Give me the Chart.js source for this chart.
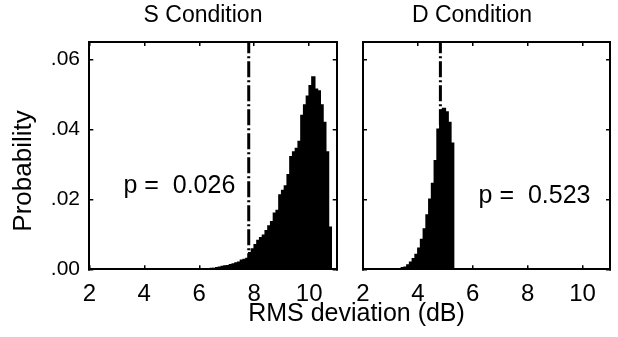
<!DOCTYPE html>
<html><head><meta charset="utf-8">
<script src="https://cdn.jsdelivr.net/npm/chart.js@4.4.1/dist/chart.umd.min.js"></script>
<style>
html,body{margin:0;padding:0;background:#fff;}
#wrap{position:relative;width:618px;height:337px;background:#fff;}
canvas{position:absolute;left:0;top:0;}
</style></head><body>
<div id="wrap"><canvas id="cS" width="618" height="337"></canvas><canvas id="cD" width="618" height="337"></canvas></div>
<script>
// ---- data ----
const panelTitles = ['S Condition', 'D Condition'];
const xTickValues = [2, 4, 6, 8, 10];
const yTickValues = [0, 0.02, 0.04, 0.06];
const yTickLabels = ['.00', '.02', '.04', '.06'];
const yAxisLabel = 'Probability';
const xAxisLabel = 'RMS deviation (dB)';
const pLabels = ['p =  0.026', 'p =  0.523'];

const binCentersS = [6.45, 6.55, 6.65, 6.75, 6.85, 6.95, 7.05, 7.15, 7.25, 7.35, 7.45, 7.55, 7.65, 7.75,
  7.85, 7.95, 8.05, 8.15, 8.25, 8.35, 8.45, 8.55, 8.65, 8.75, 8.85, 8.95, 9.05, 9.15, 9.25, 9.35,
  9.45, 9.55, 9.65, 9.75, 9.85, 9.95, 10.05, 10.15, 10.25, 10.35, 10.45, 10.55, 10.65, 10.75];
const probS = [0.0002, 0.0002, 0.0004, 0.0006, 0.0008, 0.0009, 0.0010, 0.0013, 0.0015, 0.0018, 0.0020, 0.0026, 0.0028, 0.0031,
  0.0047, 0.0058, 0.0070, 0.0082, 0.0090, 0.0097, 0.0110, 0.0124, 0.0136, 0.0160, 0.0168, 0.0212, 0.0225, 0.0238, 0.0270, 0.0322,
  0.0335, 0.0345, 0.0365, 0.0440, 0.0470, 0.0495, 0.0525, 0.0550, 0.0515, 0.0510, 0.0470, 0.0420, 0.0335, 0.0120];

const binCentersD = [3.45, 3.55, 3.65, 3.75, 3.85, 3.95, 4.05, 4.15, 4.25, 4.35, 4.45, 4.55, 4.65, 4.75,
  4.85, 4.95, 5.05, 5.15, 5.25];
const probD = [0.0004, 0.0006, 0.0012, 0.0020, 0.0030, 0.0042, 0.0060, 0.0085, 0.0115, 0.0155, 0.0200, 0.0245, 0.0310, 0.0400,
  0.0455, 0.0460, 0.0450, 0.0420, 0.0360];

const criterionS = 7.8;
const criterionD = 4.82;
const pLabelAtS = [3.24, 0.0217];
const pLabelAtD = [6.21, 0.0189];

// ---- style ----
const FONT = '"Liberation Sans", Arial, Helvetica, sans-serif';
Chart.defaults.font.family = FONT;
Chart.defaults.color = '#000';

const textPlugin = {
  id: 'panelText',
  afterDatasetsDraw(chart, args, opts) {
    const ctx = chart.ctx;
    const xs = chart.scales.x, ys = chart.scales.y;
    ctx.save();
    ctx.fillStyle = '#000';
    ctx.font = '25px ' + FONT;
    ctx.textAlign = 'left';
    ctx.textBaseline = 'alphabetic';
    ctx.fillText(opts.pText, xs.getPixelForValue(opts.pAt[0]), ys.getPixelForValue(opts.pAt[1]));
    if (opts.axisLabels) {
      ctx.textAlign = 'center';
      ctx.fillText(xAxisLabel, 356.5, 321.3);
      ctx.translate(24, 171);
      ctx.rotate(-Math.PI / 2);
      ctx.font = '26px ' + FONT;
      ctx.textBaseline = 'middle';
      ctx.fillText(yAxisLabel, 0, 0);
    }
    ctx.restore();
  }
};

function fixedTicks(values) {
  return function (scale) { scale.ticks = values.map(v => ({ value: v })); };
}

function makePanel(id, cfg) {
  const gridOpts = { drawOnChartArea: false, drawTicks: true, tickLength: -4, color: '#000', lineWidth: 1.5, offset: false };
  const borderOpts = { display: true, width: 2, color: '#000' };
  return new Chart(document.getElementById(id), {
    type: 'bar',
    data: {
      datasets: [
        {
          type: 'bar',
          data: cfg.centers.map((c, i) => ({ x: c, y: cfg.probs[i] })),
          backgroundColor: '#000',
          borderWidth: 0,
          barPercentage: 1,
          categoryPercentage: 1,
          inflateAmount: 0.8,
          grouped: false,
          order: 2
        },
        {
          type: 'line',
          data: [{ x: cfg.criterion, y: 0 }, { x: cfg.criterion, y: 0.065 }],
          borderColor: '#000',
          borderWidth: 3,
          borderDash: [16, 3, 2, 3],
          pointRadius: 0,
          fill: false,
          order: 1
        }
      ]
    },
    options: {
      responsive: false,
      animation: false,
      devicePixelRatio: 1,
      layout: { padding: cfg.padding },
      plugins: {
        legend: { display: false },
        tooltip: { enabled: false },
        title: {
          display: true,
          text: cfg.title,
          color: '#000',
          font: { size: 23, weight: 'normal', family: FONT, lineHeight: 1.2 },
          padding: { top: 2, bottom: 12.4 }
        },
        panelText: { pText: cfg.pText, pAt: cfg.pAt, axisLabels: cfg.axisLabels }
      },
      scales: {
        x: {
          type: 'linear', position: 'bottom', min: 2, max: 11, offset: false,
          afterBuildTicks: fixedTicks(xTickValues),
          afterFit: s => { s.height = 67.7; },
          ticks: { font: { size: 24, family: FONT }, color: '#000', padding: 15, maxRotation: 0, autoSkip: false },
          grid: gridOpts, border: borderOpts
        },
        x2: {
          type: 'linear', position: 'top', min: 2, max: 11, offset: false,
          afterBuildTicks: fixedTicks(xTickValues),
          afterFit: s => { s.height = 0; },
          ticks: { display: false },
          grid: gridOpts, border: borderOpts
        },
        y: {
          type: 'linear', position: 'left', min: 0, max: 0.065,
          afterBuildTicks: fixedTicks(yTickValues),
          afterFit: s => { s.width = cfg.yWidth; },
          ticks: {
            display: cfg.yLabels, font: { size: 21, family: FONT }, color: '#000', padding: 13.3, autoSkip: false,
            callback: (v, i) => yTickLabels[i]
          },
          grid: gridOpts, border: borderOpts
        },
        y2: {
          type: 'linear', position: 'right', min: 0, max: 0.065,
          afterBuildTicks: fixedTicks(yTickValues),
          afterFit: s => { s.width = cfg.y2Width; },
          ticks: { display: false },
          grid: gridOpts, border: borderOpts
        }
      }
    },
    plugins: [textPlugin]
  });
}

makePanel('cS', {
  title: panelTitles[0], centers: binCentersS, probs: probS, criterion: criterionS,
  pText: pLabels[0], pAt: pLabelAtS, axisLabels: true, yLabels: true,
  padding: { left: 0, right: 212, top: 0, bottom: 0 }, yWidth: 89.3, y2Width: 69.3
});
makePanel('cD', {
  title: panelTitles[1], centers: binCentersD, probs: probD, criterion: criterionD,
  pText: pLabels[1], pAt: pLabelAtD, axisLabels: false, yLabels: false,
  padding: { left: 326, right: 0, top: 0, bottom: 0 }, yWidth: 37, y2Width: 8
});
</script>
</body></html>
